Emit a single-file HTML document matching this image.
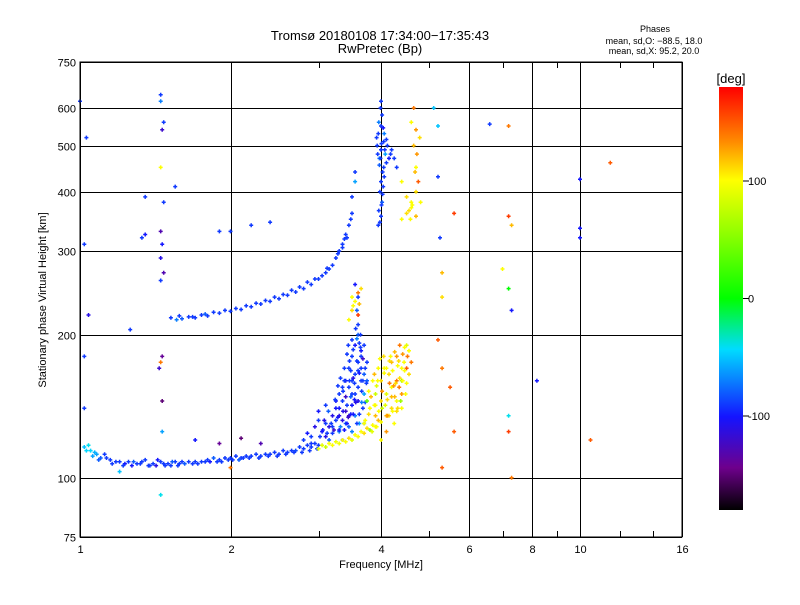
<!DOCTYPE html>
<html><head><meta charset="utf-8"><style>
body{margin:0;background:#fff}
svg text{font-family:"Liberation Sans",sans-serif;fill:#000}
</style></head><body>
<svg id="c" width="800" height="600" xmlns="http://www.w3.org/2000/svg">
<defs><linearGradient id="cb" x1="0" y1="1" x2="0" y2="0">
<stop offset="0" stop-color="#000"/><stop offset="0.1" stop-color="#6e008c"/><stop offset="0.22" stop-color="#1414ff"/><stop offset="0.38" stop-color="#00dcff"/><stop offset="0.5" stop-color="#00ff00"/><stop offset="0.65" stop-color="#8cff00"/><stop offset="0.78" stop-color="#ffff00"/><stop offset="0.87" stop-color="#ff8c00"/><stop offset="1" stop-color="#ff0000"/>
</linearGradient></defs>
<text x="380" y="40" font-size="13" text-anchor="middle">Tromsø 20180108 17:34:00−17:35:43</text>
<text x="380" y="53" font-size="13" text-anchor="middle">RwPretec (Bp)</text>
<text x="655" y="32" font-size="9" text-anchor="middle">Phases</text>
<text x="654" y="44" font-size="9" text-anchor="middle">mean, sd,O: −88.5, 18.0</text>
<text x="654" y="54" font-size="9" text-anchor="middle">mean, sd,X:  95.2, 20.0</text>
<g id="grid"></g>
<g id="pts"></g>
<rect x="80" y="62" width="602" height="475" fill="none" stroke="#000" stroke-width="1"/>
<g id="ticks"></g>
<text x="46" y="300" font-size="11" text-anchor="middle" transform="rotate(-90 46 300)">Stationary phase Virtual Height [km]</text>
<text x="381" y="568" font-size="11" text-anchor="middle">Frequency [MHz]</text>
<text x="731" y="83" font-size="13" text-anchor="middle">[deg]</text>
<rect x="719" y="87" width="24" height="423" fill="url(#cb)"/>
<g id="cbt"></g>
</svg>
<script>
const xTicks=[1,2,4,6,8,10,16];
const xMinor=[3,5,7,9,12,14];
const yTicks=[75,100,200,300,400,500,600,750];
const cbTicks=[100,0,-100];
const freqs=[1.02,1.05,1.08,1.1,1.12,1.15,1.2,1.25,1.3,1.35,1.4,1.45,1.5,1.55,1.6,1.7,1.8,1.9,2.0,2.1,2.2,2.3,2.4,2.5,2.6,2.7,2.8,2.9,3.0,
1.04,1.07,1.13,1.18,1.23,1.28,1.33,1.38,1.43,1.48,1.53,1.58,1.65,1.75,1.85,1.95,2.05,2.15,2.25,2.35,2.45,2.55,2.65,2.75,2.85,2.95,
1.03,1.06,1.09,1.16,1.22,1.27,1.32,1.37,1.42,1.47,1.52,1.57,1.62,1.68,1.72,1.78,1.82,1.88,1.92,1.98,2.02,2.08,2.12,2.18,2.28,2.38,2.48,2.58,2.68,2.78,2.88,2.98,
3.05,3.1,3.15,3.2,3.2,3.25,3.3,3.3,3.35,3.35,3.4,3.4,3.45,3.45,3.5,3.5,3.5,3.55,3.55,3.55,3.6,3.6,3.6,3.6,3.65,3.65,3.65,3.7,3.7,3.7,3.4,3.3,3.25,3.15,3.45,3.5,3.55,3.35,3.62,3.68,3.75,3.75,3.5,3.6,3.58,3.6,3.55,3.1,3.2,3.3,3.4,3.45,3.5,3.6,3.65,3.7,3.25,3.35,
3.02,3.06,3.08,3.12,3.14,3.18,3.22,3.24,3.28,3.28,3.32,3.32,3.36,3.36,3.38,3.38,3.42,3.42,3.44,3.46,3.48,3.48,3.52,3.52,3.54,3.56,3.58,3.58,3.62,3.62,3.64,3.66,3.68,3.72,3.72,3.74,3.42,3.46,3.52,3.56,3.62,3.66,3.38,3.48,3.58,3.68,3.3,3.44,3.54,3.64,
2.8,2.85,2.9,2.95,3.0,2.9,3.0,3.1,
1.52,1.6,1.7,1.8,1.9,2.0,2.1,2.2,2.3,2.4,2.5,2.6,2.7,2.8,2.9,3.0,3.1,3.2,3.25,3.3,3.35,3.4,3.45,3.5,3.5,3.55,3.55,1.56,1.65,1.75,1.85,2.05,2.25,2.45,2.65,2.85,3.05,3.15,3.35,3.42,
1.58,1.68,1.78,1.95,2.15,2.35,2.55,2.75,2.95,3.12,3.28,3.38,3.48,
3.95,4.0,4.02,3.98,4.0,4.05,3.97,4.0,4.05,3.95,4.0,4.02,4.0,3.93,4.08,4.1,4.15,4.2,4.25,4.3,3.96,4.03,4.06,3.99,
3.92,3.94,3.97,4.01,4.04,4.07,4.1,3.96,3.99,4.03,4.06,4.12,4.18,3.98,4.01,4.04,
3.0,3.1,3.2,3.3,3.4,3.5,3.6,3.7,3.8,3.9,4.0,4.1,4.2,4.3,4.4,4.5,4.55,4.6,4.55,4.5,3.7,3.8,3.9,4.0,4.1,4.2,4.3,4.4,4.0,4.1,4.2,3.9,3.85,4.05,4.3,4.4,4.25,3.75,4.15,4.35,3.95,4.45,4.1,4.2,4.3,4.5,4.4,4.0,3.9,4.15,
3.72,3.78,3.82,3.88,3.92,3.96,4.02,4.06,4.12,4.16,4.22,4.26,4.32,4.36,4.42,4.46,4.52,4.48,4.38,4.28,4.18,4.08,3.98,3.88,3.78,4.12,4.22,4.32,4.42,4.02,3.92,4.26,4.36,4.46,4.16,4.06,3.84,3.94,4.24,4.34,
3.05,3.15,3.25,3.35,3.45,3.55,3.65,3.75,3.85,3.95,
3.45,3.5,3.55,3.6,3.65,3.5,3.6,3.52,3.62,
4.4,4.5,4.6,4.7,4.6,4.7,4.75,4.7,4.65,4.7,4.6,4.65,4.5,4.8,4.4,4.55,4.62,4.68,4.72,4.78,4.58,
1.45,1.45,1.47,1.46,1.45,1.47,1.45,1.46,1.45,1.47,1.45,1.46,1.45,1.46,1.46,1.44,
1.02,1.03,1.02,1.04,1.02,1.0,1.9,2.0,2.2,2.4,1.35,1.55,1.35,1.26,1.33,5.1,5.2,5.2,5.25,5.3,5.3,5.2,5.3,5.6,5.5,5.6,5.3,6.6,7.2,7.2,7.3,7.0,7.2,7.3,7.2,7.2,7.3,8.2,10.0,10.0,10.0,11.5,10.5,1.7,1.9,2.1,2.0,2.3,1.45,1.2];
const heights=[116,114,112,110,112,109,108,108,107,109,107,108,107,108,108,108,109,109,110,110,111,111,112,112,113,114,115,116,117,
117,113,110,108,107,108,108,106,109,106,108,107,108,108,110,110,111,111,112,112,113,114,114,116,117,118,
114,111,109,107,106,106,107,106,106,107,106,106,107,107,107,108,108,108,108,109,109,109,110,110,110,111,111,112,113,113,114,115,
125,130,120,135,128,140,125,150,132,145,160,138,128,170,150,142,180,135,165,190,155,145,175,200,160,185,170,150,190,165,148,140,132,128,155,125,150,120,130,140,175,160,195,210,225,240,255,122,124,126,130,135,160,168,180,130,145,155,
122,126,132,124,138,130,126,146,134,156,128,162,138,152,170,126,142,182,134,160,148,168,136,186,158,144,176,196,136,166,188,152,178,144,170,158,130,176,162,206,192,144,160,136,130,160,135,190,146,200,
120,124,122,128,132,118,138,142,
217,216,217,219,222,224,226,229,232,235,238,242,246,250,255,262,270,280,290,300,310,325,340,360,390,420,440,215,218,220,223,227,233,240,248,258,266,275,305,320,
219,218,221,225,230,236,243,252,262,276,296,318,350,
340,355,380,400,420,450,470,490,510,530,550,580,620,500,480,460,470,490,470,450,365,440,530,600,
520,480,455,505,545,490,515,560,470,395,430,500,480,345,375,410,
115,116,117,118,119,120,122,124,126,128,131,135,140,145,150,158,165,175,185,190,130,140,150,160,170,175,160,170,145,150,155,135,160,180,180,140,130,145,165,155,170,175,125,148,138,170,160,120,142,135,
132,136,148,142,156,138,152,166,146,158,168,148,172,162,182,168,180,150,145,158,180,142,178,165,152,135,138,140,160,140,128,184,190,188,176,170,125,160,156,176,
117,118,119,120,121,123,125,127,129,132,
215,225,235,245,250,240,220,230,232,
350,360,370,355,380,400,420,450,500,540,560,600,390,380,420,365,375,440,480,520,350,
640,620,560,540,450,380,330,310,290,270,260,180,175,145,125,170,
310,520,180,220,140,620,330,330,340,345,390,410,325,205,320,600,550,430,320,270,240,195,170,360,155,125,105,555,550,355,340,275,250,225,135,125,100,160,425,335,320,460,120,120,118,121,105,118,92,103];
const phases=[-50,-45,-60,-80,-90,-90,-90,-90,-90,-90,-90,-90,-90,-90,-90,-90,-90,-90,-90,-90,-90,-90,-90,-90,-90,-85,-90,-90,-90,
-40,-55,-90,-90,-100,-80,-90,-90,-100,-90,-80,-90,-90,-90,-80,-90,-90,-90,-90,-90,-90,-90,-90,-90,-90,-90,
-45,-60,-80,-90,-90,-100,-90,-90,-110,-90,-90,-90,-80,-90,-90,-90,-100,-90,-90,-90,-90,-80,-90,-90,-90,-90,-90,-90,-90,-90,-90,-90,
-100,-90,-80,-110,-90,-100,-70,-90,-110,-90,-100,-120,-80,-90,-90,-100,-90,-70,-90,-100,-90,-110,-90,-80,-90,-100,-90,-60,-90,-80,-120,-100,-90,-110,-90,-70,-90,-100,-60,-90,-90,-80,-90,-90,-80,-90,-100,-110,-90,-100,-80,-120,-90,-90,-90,-60,-100,-90,
-90,-100,-110,-90,-80,-90,-120,-90,-100,-90,-70,-90,-110,-90,-90,-100,-90,-90,-120,-90,-80,-90,-100,-90,-90,-110,-90,-70,-90,-100,-90,-90,-120,-80,-90,-90,-100,-90,-110,-90,-90,-70,-90,-100,-90,-90,-110,-90,-100,-90,
-90,-100,-90,-110,-90,-90,-100,-90,
-90,-80,-90,-90,-90,-90,-90,-90,-90,-90,-90,-90,-90,-90,-90,-90,-90,-90,-90,-90,-90,-90,-90,-90,-90,-60,-90,-70,-90,-90,-90,-90,-90,-90,-90,-90,-90,-90,-90,-90,
-90,-90,-80,-90,-90,-90,-90,-90,-90,-90,-90,-90,-90,
-90,-90,-80,-90,-90,-90,-70,-90,-90,-90,-90,-90,-90,-90,-60,-90,-100,-90,-90,-90,-90,-90,-70,-90,
-90,-90,-80,-90,-100,-90,-90,-70,-90,-90,-90,-90,-90,-90,-90,-90,
90,80,100,95,100,90,100,110,60,100,100,120,110,100,130,100,110,140,100,90,100,100,80,110,100,120,140,100,110,90,100,120,100,110,130,100,100,40,110,140,100,100,130,120,110,150,60,100,100,110,
100,110,120,100,90,100,130,100,110,140,100,120,100,110,130,100,140,100,60,110,100,90,100,120,100,130,100,110,100,80,100,120,140,100,110,100,90,100,130,110,
90,100,95,100,110,100,100,110,100,120,
100,110,100,140,110,100,160,100,120,
100,110,100,120,100,110,150,100,120,130,100,140,110,100,100,110,100,120,130,110,100,
-90,-70,-90,-120,100,-90,-130,-100,-110,-130,-90,-140,140,-150,-60,-120,
-90,-90,-90,-110,-90,-90,-90,-90,-90,-90,-90,-90,-100,-90,-90,-50,-50,-90,-90,120,110,150,140,160,150,150,150,-90,140,160,120,100,0,-100,-40,160,140,-100,-100,-100,-100,150,150,-100,-140,-150,140,-130,-40,-50];

const X0=80,X1=682,Y0=537,Y1=62,NS="http://www.w3.org/2000/svg";
function xs(f){return X0+(X1-X0)*Math.log(f)/Math.log(16);}
function ys(h){return Y0-(Y0-Y1)*Math.log10(h/75);}
const stops=[[0,[0,0,0]],[0.1,[110,0,140]],[0.22,[20,20,255]],[0.38,[0,220,255]],[0.5,[0,255,0]],[0.65,[140,255,0]],[0.78,[255,255,0]],[0.87,[255,140,0]],[1,[255,0,0]]];
function col(p){let t=Math.max(0,Math.min(1,(p+180)/360));for(let i=1;i<stops.length;i++){if(t<=stops[i][0]){const a=stops[i-1],b=stops[i],u=(t-a[0])/(b[0]-a[0]);return 'rgb('+a[1].map((v,k)=>Math.round(v+(b[1][k]-v)*u)).join(',')+')';}}return 'red';}
function mk(tag,attrs,parent){const e=document.createElementNS(NS,tag);for(const k in attrs)e.setAttribute(k,attrs[k]);parent.appendChild(e);return e;}
const grid=document.getElementById('grid'),ticks=document.getElementById('ticks'),pts=document.getElementById('pts'),cbt=document.getElementById('cbt');
xTicks.forEach(v=>{const x=Math.round(xs(v))+0.5;
 const l=mk('line',{x1:x,x2:x,y1:Y1,y2:Y0,stroke:'#000','stroke-width':1},grid);
 
 
 const t=mk('text',{x:x,y:Y0+16,'font-size':11,'text-anchor':'middle'},ticks);t.textContent=v;
 
 });
xMinor.forEach(v=>{const x=Math.round(xs(v))+0.5;
 const l=mk('path',{d:`M${x} ${Y0}v-6M${x} ${Y1}v6`,stroke:'#000'},ticks);
 
 });
yTicks.forEach(v=>{const y=Math.round(ys(v))+0.5;
 const l=mk('line',{x1:X0,x2:X1,y1:y,y2:y,stroke:'#000','stroke-width':1},grid);
 
 
 const t=mk('text',{x:X0-4,y:y+4,'font-size':11,'text-anchor':'end'},ticks);t.textContent=v;
 
 });
for(let i=0;i<freqs.length;i++){const x=xs(freqs[i]),y=ys(heights[i]);
 const p=mk('path',{d:`M${(x-2).toFixed(1)} ${y.toFixed(1)}h4M${x.toFixed(1)} ${(y-2).toFixed(1)}v4`,stroke:col(phases[i]),'stroke-width':1.5},pts);
 
 }
cbTicks.forEach(v=>{const y=87+423*(1-(v+180)/360);
 const l=mk('line',{x1:743,x2:749,y1:y,y2:y,stroke:'#000'},cbt);
 
 
 const t=mk('text',{x:748,y:y+4,'font-size':11},cbt);t.textContent=v;
 
 });
</script>
</body></html>
